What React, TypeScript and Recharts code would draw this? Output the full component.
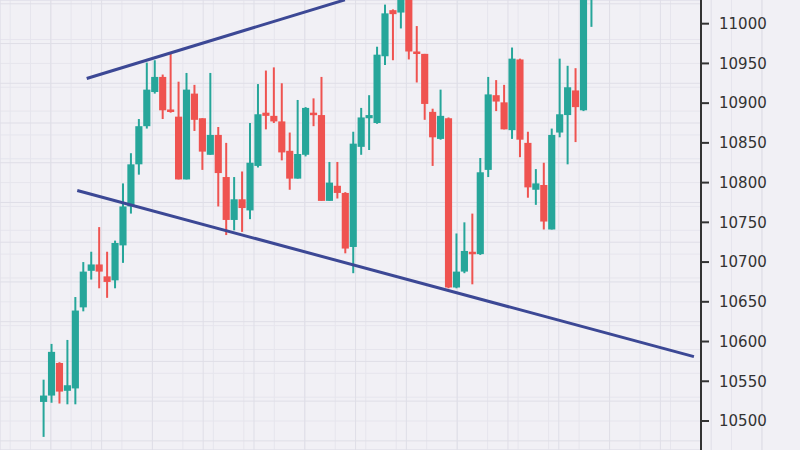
import React from "react";
import {
  ComposedChart,
  Bar,
  XAxis,
  YAxis,
  CartesianGrid,
  ReferenceLine,
} from "recharts";

// OHLC values (70 candles)
const OPEN = [
  10524, 10532, 10573, 10538, 10541, 10643, 10689, 10697, 10682, 10677,
  10721, 10770, 10823, 10871, 10914, 10933, 10892, 10883, 10804, 10912,
  10881, 10835, 10860, 10807, 10753, 10779, 10765, 10821, 10888, 10884,
  10877, 10840, 10805, 10835, 10888, 10885, 10777, 10796, 10787, 10719,
  10845, 10881, 10875, 10959, 11017, 11014, 11045, 10965, 10962, 10889,
  10855, 10881, 10668, 10688, 10713, 10710, 10816, 10910, 10901, 10866,
  10955, 10850, 10791, 10797, 10741, 10863, 10885, 10916, 10891, 11030,
];
const HIGH = [
  10552, 10597, 10574, 10602, 10656, 10700, 10713, 10744, 10713, 10727,
  10799, 10837, 10880, 10951, 10954, 10936, 10962, 10927, 10938, 10923,
  10881, 10938, 10870, 10850, 10807, 10814, 10875, 10924, 10941, 10945,
  10925, 10863, 10904, 10895, 10906, 10933, 10826, 10826, 10788, 10864,
  10894, 10910, 10971, 11024, 11018, 11060, 11060, 10997, 10962, 10893,
  10917, 10882, 10736, 10750, 10761, 10831, 10933, 10929, 10923, 10970,
  10956, 10864, 10817, 10825, 10868, 10956, 10947, 10944, 11045, 11060,
];
const LOW = [
  10480, 10523, 10522, 10521, 10521, 10638, 10678, 10667, 10655, 10667,
  10699, 10761, 10810, 10868, 10912, 10880, 10888, 10804, 10804, 10865,
  10816, 10835, 10770, 10734, 10740, 10738, 10754, 10819, 10867, 10875,
  10828, 10791, 10805, 10833, 10871, 10777, 10777, 10780, 10711, 10686,
  10835, 10841, 10874, 10948, 10954, 10994, 10955, 10926, 10879, 10821,
  10854, 10667, 10667, 10686, 10672, 10709, 10807, 10890, 10867, 10855,
  10832, 10781, 10772, 10741, 10741, 10857, 10823, 10851, 10890, 10996,
];
const CLOSE = [
  10532, 10587, 10537, 10545, 10639, 10688, 10697, 10688, 10675, 10724,
  10770, 10823, 10871, 10917, 10933, 10891, 10889, 10804, 10917, 10879,
  10839, 10860, 10812, 10753, 10779, 10768, 10825, 10886, 10884, 10877,
  10838, 10805, 10836, 10894, 10885, 10777, 10800, 10787, 10717, 10849,
  10882, 10885, 10961, 11013, 11012, 11045, 10965, 10962, 10899, 10857,
  10884, 10668, 10688, 10714, 10710, 10813, 10911, 10902, 10867, 10956,
  10854, 10794, 10799, 10751, 10860, 10886, 10920, 10895, 11030, 11050,
];

const Y_TICKS = [10500, 10550, 10600, 10650, 10700, 10750, 10800, 10850, 10900, 10950, 11000];

// trend lines (candle index, price)
const UPPER_TREND = [
  { x: 5.38, y: 10931 },
  { x: 37.9, y: 11030 },
];
const LOWER_TREND = [
  { x: 4.19, y: 10790 },
  { x: 81.86, y: 10581 },
];

const X_DOMAIN: [number, number] = [-5.54, 82.75];
const Y_DOMAIN: [number, number] = [10463.5, 11029.8];

const TEAL = "#26a69a";
const RED = "#ef5350";
const TREND = "#3c4895";

const data = OPEN.map((o, i) => ({
  i,
  open: o,
  high: HIGH[i],
  low: LOW[i],
  close: CLOSE[i],
}));

const fineY: number[] = [];
for (let v = 10470; v <= 11030; v += 10) fineY.push(v);
const fineX: number[] = [];
for (let v = -5; v <= 82; v += 1) fineX.push(v);
const majorY: number[] = [];
for (let v = 10475; v <= 11030; v += 50) majorY.push(v);
const majorX: number[] = [];
for (let v = -5; v <= 82; v += 5) majorX.push(v);

const Candle = (props: any) => {
  const { x, y, width, height, payload } = props;
  if (!payload || height == null) return null;
  const { open, close, high, low } = payload;
  const up = close >= open;
  const color = up ? TEAL : RED;
  const ratio = height / (high - low || 1);
  const yOf = (v: number) => y + (high - v) * ratio;
  const cx = x + width / 2;
  const top = yOf(Math.max(open, close));
  const bot = yOf(Math.min(open, close));
  return (
    <g>
      <line x1={cx} x2={cx} y1={y} y2={y + height} stroke={color} strokeWidth={2} />
      <rect x={x} y={top} width={width} height={Math.max(2.5, bot - top)} fill={color} />
    </g>
  );
};

export default function App() {
  return (
    <div
      style={{
        position: "absolute",
        left: 0,
        top: 0,
        width: 800,
        height: 450,
        background: "#f1f0f5",
        overflow: "hidden",
      }}
    >
      <ComposedChart
        width={800}
        height={450}
        data={data}
        margin={{ top: 0, right: 0, bottom: 0, left: 0 }}
      >
        <XAxis dataKey="i" type="number" domain={X_DOMAIN} allowDataOverflow hide />
        <XAxis xAxisId="g" type="number" domain={X_DOMAIN} ticks={fineX} allowDataOverflow hide />
        <XAxis xAxisId="m" type="number" domain={X_DOMAIN} ticks={majorX} allowDataOverflow hide />
        <YAxis yAxisId="g" domain={Y_DOMAIN} ticks={fineY} allowDataOverflow hide orientation="right" width={99} />
        <YAxis yAxisId="m" domain={Y_DOMAIN} ticks={majorY} allowDataOverflow hide orientation="right" width={99} />
        <CartesianGrid xAxisId="g" yAxisId="g" stroke="#e6e5ed" strokeWidth={1} />
        <CartesianGrid xAxisId="m" yAxisId="m" stroke="#dfdee7" strokeWidth={1} />
        <YAxis
          orientation="right"
          width={99}
          domain={Y_DOMAIN}
          allowDataOverflow
          ticks={Y_TICKS}
          interval={0}
          axisLine={{ stroke: "#333333", strokeWidth: 2 }}
          tickLine={{ stroke: "#333333", strokeWidth: 2 }}
          tickSize={8}
          tickMargin={10}
          tick={{ fill: "#333333", fontSize: 15, fontFamily: "DejaVu Sans" }}
        />
        <Bar
          dataKey={(d: any) => [d.low, d.high]}
          barSize={9}
          shape={<Candle />}
          isAnimationActive={false}
        />
        <ReferenceLine
          segment={UPPER_TREND}
          stroke={TREND}
          strokeWidth={3}
          ifOverflow="hidden"
        />
        <ReferenceLine
          segment={LOWER_TREND}
          stroke={TREND}
          strokeWidth={3}
          ifOverflow="hidden"
        />
      </ComposedChart>
    </div>
  );
}
